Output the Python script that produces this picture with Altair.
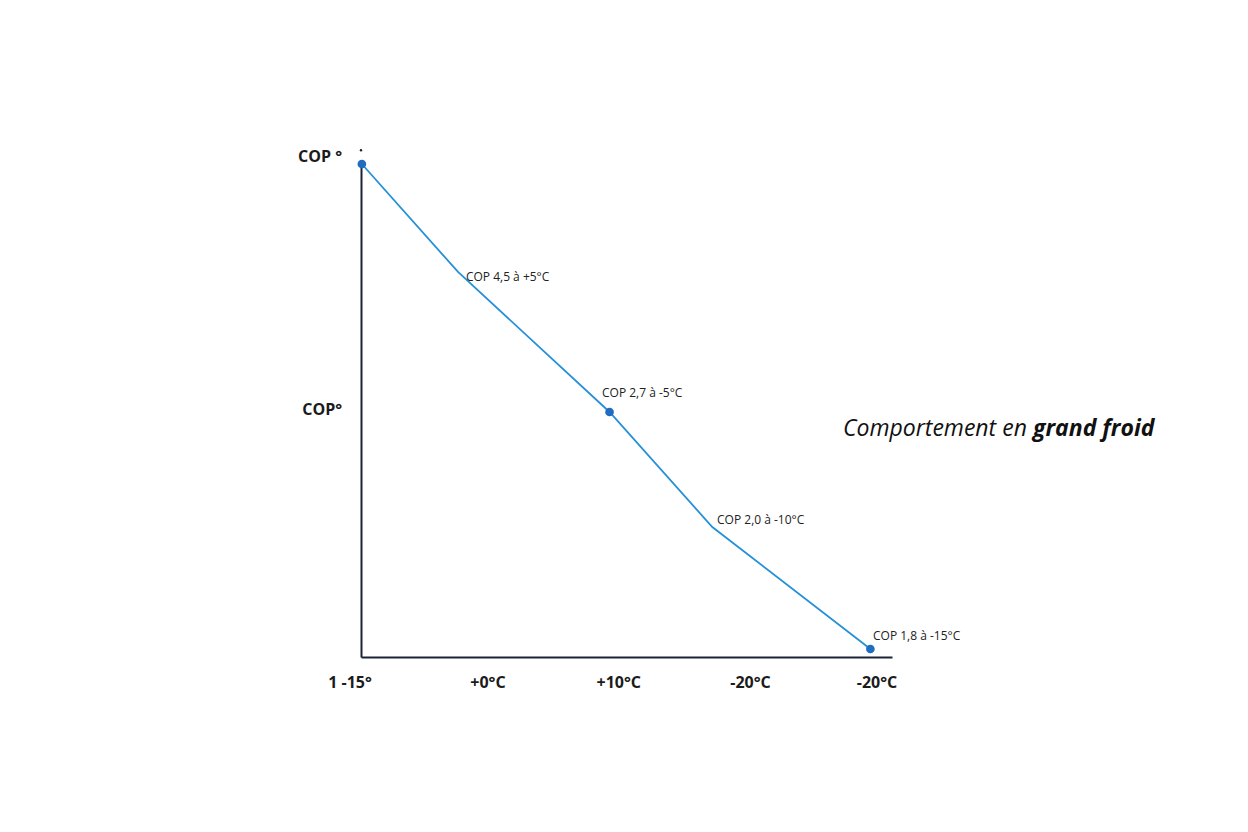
import altair as alt
import pandas as pd

# Line vertices (x in label-step units, y in COP-like units)
pt_x = [0.09, 0.82, 1.97, 2.75, 3.95]
pt_y = [5.0, 3.905, 2.485, 1.318, 0.081]
pt_dot = [True, False, True, False, True]

# Annotations
ann_text = ["COP 4,5 à +5°C", "COP 2,7 à -5°C", "COP 2,0 à -10°C", "COP 1,8 à -15°C"]
ann_x = [0.88, 1.913, 2.786, 3.97]
ann_y = [3.854, 2.678, 1.39, 0.213]

# X labels
xlab_text = ["1 -15°", "+0°C", "+10°C", "-20°C", "-20°C"]
xlab_x = [0.0, 1.047, 2.04, 3.04, 4.0]

# Y labels
ylab_text = ["COP °", "COP°"]
ylab_y = [5.07, 2.505]

# Title pieces
title_text = ["Comportement en", "grand froid"]
title_x = [3.742, 5.184]

X_DOM = [0.0835, 4.114]
Y_DOM = [0, 5]
FONT = "Open Sans"

line_df = pd.DataFrame({"x": pt_x, "y": pt_y, "dot": pt_dot, "o": range(len(pt_x))})
ann_df = pd.DataFrame({"x": ann_x, "y": ann_y, "t": ann_text})
xlab_df = pd.DataFrame({"x": xlab_x, "y": [-0.265] * len(xlab_x), "t": xlab_text})
ylab_df = pd.DataFrame({"x": [-0.06] * 2, "y": ylab_y, "t": ylab_text})
t1_df = pd.DataFrame({"x": [title_x[0]], "y": [2.31], "t": [title_text[0]]})
t2_df = pd.DataFrame({"x": [title_x[1]], "y": [2.31], "t": [title_text[1]]})
tiny_df = pd.DataFrame({"x": [0.0835], "y": [5.14]})

xs = alt.Scale(domain=X_DOM, nice=False, zero=False)
ys = alt.Scale(domain=Y_DOM, nice=False, zero=False)

axis_x = alt.Axis(labels=False, ticks=False, grid=False, title=None, domainColor="#1b2436", domainWidth=2)
axis_y = alt.Axis(labels=False, ticks=False, grid=False, title=None, domainColor="#1b2436", domainWidth=2)

base_line = alt.Chart(line_df).mark_line(color="#2690d8", strokeWidth=1.8).encode(
    x=alt.X("x:Q", scale=xs, axis=axis_x),
    y=alt.Y("y:Q", scale=ys, axis=axis_y),
    order="o:O",
)

dots = alt.Chart(line_df).transform_filter("datum.dot").mark_circle(
    color="#1f6cc0", size=75, opacity=1).encode(
    x=alt.X("x:Q", scale=xs), y=alt.Y("y:Q", scale=ys))

tiny = alt.Chart(tiny_df).mark_circle(color="#1b2436", size=6, opacity=1).encode(
    x=alt.X("x:Q", scale=xs), y=alt.Y("y:Q", scale=ys))

ann = alt.Chart(ann_df).mark_text(align="left", baseline="middle", fontSize=12,
                                  font=FONT, color="#222222").encode(
    x=alt.X("x:Q", scale=xs), y=alt.Y("y:Q", scale=ys), text="t:N")

xlab = alt.Chart(xlab_df).mark_text(align="center", baseline="middle", fontSize=16,
                                    fontWeight="bold", font=FONT, color="#1b1b1b").encode(
    x=alt.X("x:Q", scale=xs), y=alt.Y("y:Q", scale=ys), text="t:N")

ylab = alt.Chart(ylab_df).mark_text(align="right", baseline="middle", fontSize=16,
                                    fontWeight="bold", font=FONT, color="#1b1b1b").encode(
    x=alt.X("x:Q", scale=xs), y=alt.Y("y:Q", scale=ys), text="t:N")

title1 = alt.Chart(t1_df).mark_text(align="left", baseline="middle", fontSize=23,
                                    fontStyle="italic", font=FONT, color="#111111").encode(
    x=alt.X("x:Q", scale=xs), y=alt.Y("y:Q", scale=ys), text="t:N")
title2 = alt.Chart(t2_df).mark_text(align="left", baseline="middle", fontSize=23,
                                    fontStyle="italic", fontWeight="bold", font=FONT,
                                    color="#111111").encode(
    x=alt.X("x:Q", scale=xs), y=alt.Y("y:Q", scale=ys), text="t:N")

chart = alt.layer(base_line, dots, tiny, ann, xlab, ylab, title1, title2).properties(
    width=531, height=493,
    autosize=alt.AutoSizeParams(type="none"),
    padding={"left": 353, "top": 156, "right": 348, "bottom": 167},
    background="white",
).configure_view(stroke=None)

chart.save("out.html", embed_options={"renderer": "svg", "actions": False})
